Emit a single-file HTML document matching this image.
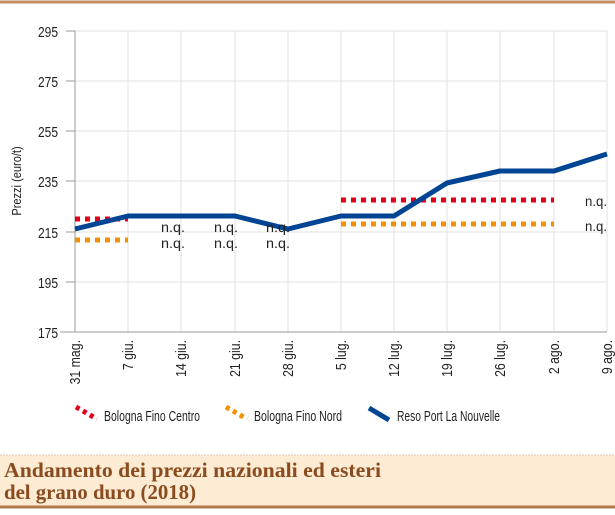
<!DOCTYPE html>
<html><head><meta charset="utf-8"><style>
body{margin:0;width:615px;height:510px;background:#fff;overflow:hidden;font-family:"Liberation Sans",sans-serif}
</style></head><body>
<svg width="615" height="510" xmlns="http://www.w3.org/2000/svg" font-family="Liberation Sans, sans-serif">
<line x1="0" y1="2" x2="615" y2="2" stroke="#c08e60" stroke-width="3"/>
<g stroke="#e2e2e2" stroke-width="1">
<line x1="75" y1="31" x2="607" y2="31"/><line x1="75" y1="81" x2="607" y2="81"/><line x1="75" y1="131" x2="607" y2="131"/><line x1="75" y1="181" x2="607" y2="181"/><line x1="75" y1="232" x2="607" y2="232"/><line x1="75" y1="282" x2="607" y2="282"/>
<line x1="128" y1="31" x2="128" y2="332"/><line x1="181" y1="31" x2="181" y2="332"/><line x1="235" y1="31" x2="235" y2="332"/><line x1="288" y1="31" x2="288" y2="332"/><line x1="341" y1="31" x2="341" y2="332"/><line x1="394" y1="31" x2="394" y2="332"/><line x1="447" y1="31" x2="447" y2="332"/><line x1="500" y1="31" x2="500" y2="332"/><line x1="554" y1="31" x2="554" y2="332"/><line x1="607" y1="31" x2="607" y2="332"/>
</g>
<line x1="75" y1="31" x2="75" y2="332" stroke="#999"/>
<line x1="60" y1="332" x2="607" y2="332" stroke="#bbb" stroke-width="1.5"/>
<g stroke="#999"><line x1="66" y1="31" x2="75" y2="31"/><line x1="66" y1="81" x2="75" y2="81"/><line x1="66" y1="131" x2="75" y2="131"/><line x1="66" y1="181" x2="75" y2="181"/><line x1="66" y1="232" x2="75" y2="232"/><line x1="66" y1="282" x2="75" y2="282"/></g>
<g font-size="15" fill="#222" text-anchor="end" transform="scale(0.8,1)">
<text x="72.5" y="37">295</text><text x="72.5" y="87">275</text><text x="72.5" y="137">255</text><text x="72.5" y="187">235</text><text x="72.5" y="238">215</text><text x="72.5" y="288">195</text><text x="72.5" y="338">175</text>
</g>
<text transform="translate(21,181) rotate(-90) scale(0.85,1)" font-size="13" fill="#222" text-anchor="middle">Prezzi (euro/t)</text>
<g font-size="15" fill="#222" text-anchor="end">
<text transform="translate(80,340) rotate(-90) scale(0.82,1)">31 mag.</text>
<text transform="translate(133,340) rotate(-90) scale(0.82,1)">7 giu.</text>
<text transform="translate(186,340) rotate(-90) scale(0.82,1)">14 giu.</text>
<text transform="translate(240,340) rotate(-90) scale(0.82,1)">21 giu.</text>
<text transform="translate(293,340) rotate(-90) scale(0.82,1)">28 giu.</text>
<text transform="translate(346,340) rotate(-90) scale(0.82,1)">5 lug.</text>
<text transform="translate(399,340) rotate(-90) scale(0.82,1)">12 lug.</text>
<text transform="translate(452,340) rotate(-90) scale(0.82,1)">19 lug.</text>
<text transform="translate(505,340) rotate(-90) scale(0.82,1)">26 lug.</text>
<text transform="translate(559,340) rotate(-90) scale(0.82,1)">2 ago.</text>
<text transform="translate(612,340) rotate(-90) scale(0.82,1)">9 ago.</text>
</g>
<g stroke-width="5" stroke-dasharray="5 5" fill="none">
<line x1="75" y1="219" x2="128" y2="219" stroke="#e3001b"/>
<line x1="341" y1="200" x2="554" y2="200" stroke="#e3001b"/>
<line x1="75" y1="240" x2="128" y2="240" stroke="#f39200"/>
<line x1="341" y1="224" x2="554" y2="224" stroke="#f39200"/>
</g>
<polyline points="75,229 128,216 235,216 288,229 341,216 394,216 447,183 500,171 554,171 607,154" fill="none" stroke="#004494" stroke-width="5" stroke-linejoin="round"/>
<g font-size="14" fill="#222" text-anchor="middle">
<text x="173" y="232" textLength="24" lengthAdjust="spacingAndGlyphs">n.q.</text><text x="173" y="248" textLength="24" lengthAdjust="spacingAndGlyphs">n.q.</text>
<text x="226" y="232" textLength="24" lengthAdjust="spacingAndGlyphs">n.q.</text><text x="226" y="248" textLength="24" lengthAdjust="spacingAndGlyphs">n.q.</text>
<text x="278" y="232" textLength="24" lengthAdjust="spacingAndGlyphs">n.q.</text><text x="278" y="248" textLength="24" lengthAdjust="spacingAndGlyphs">n.q.</text>
<text x="596" y="206" textLength="22" lengthAdjust="spacingAndGlyphs">n.q.</text><text x="596" y="231" textLength="22" lengthAdjust="spacingAndGlyphs">n.q.</text>
</g>
<g stroke-width="5" stroke-dasharray="4 4">
<line x1="76" y1="407" x2="97" y2="419" stroke="#e3001b"/>
<line x1="226" y1="407" x2="247" y2="419" stroke="#f39200"/>
</g>
<line x1="369" y1="408" x2="389" y2="420" stroke="#004494" stroke-width="5"/>
<g font-size="15" fill="#222">
<text x="104" y="421" textLength="96" lengthAdjust="spacingAndGlyphs">Bologna Fino Centro</text>
<text x="254" y="421" textLength="88" lengthAdjust="spacingAndGlyphs">Bologna Fino Nord</text>
<text x="397" y="421" textLength="103" lengthAdjust="spacingAndGlyphs">Reso Port La Nouvelle</text>
</g>
<rect x="0" y="455" width="615" height="51" fill="#fdebd3"/>
<line x1="0" y1="455" x2="615" y2="455" stroke="#e0c8b0" stroke-dasharray="2 1"/>
<line x1="0" y1="507" x2="615" y2="507" stroke="#b07a4c" stroke-width="3"/>
<g font-family="Liberation Serif, serif" font-size="21" fill="#8a4b1e" font-weight="bold">
<text x="4" y="477" textLength="377" lengthAdjust="spacingAndGlyphs">Andamento dei prezzi nazionali ed esteri</text>
<text x="4" y="499" textLength="192" lengthAdjust="spacingAndGlyphs">del grano duro (2018)</text>
</g>
</svg>
</body></html>
